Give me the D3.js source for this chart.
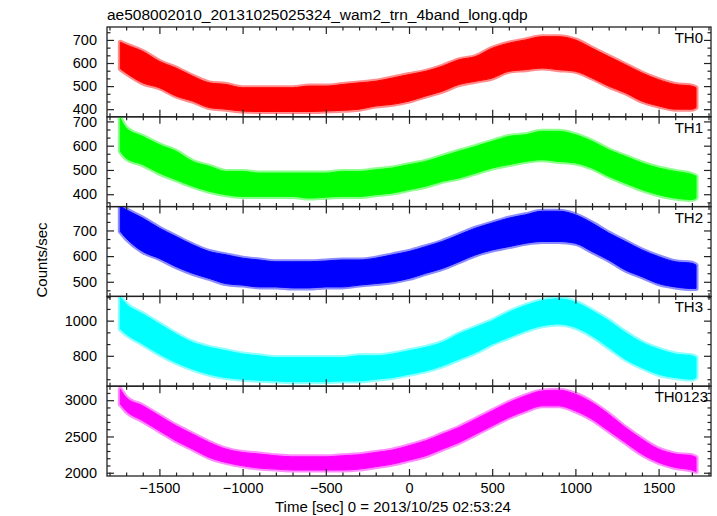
<!DOCTYPE html>
<html><head><meta charset="utf-8">
<script src="https://cdn.jsdelivr.net/npm/d3@7"></script>
<style>
body{margin:0;background:#fff}
text{font-family:"Liberation Sans",Arial,Helvetica,sans-serif;fill:#000}
</style>
</head><body>
<svg id="chart" width="717" height="516"></svg>
<script>
// ---- data (lower / upper edge of the dense noise band) ----
const times = [-1735,-1700,-1600,-1500,-1400,-1300,-1200,-1100,-1000,-900,-800,-700,-600,-500,-400,-300,-200,-100,0,100,200,300,400,500,600,700,800,900,1000,1100,1200,1300,1400,1500,1600,1700,1725];

const th0Hi = [690,679,650,607,578,543,514,507,493,493,493,493,500,500,507,514,521,535,550,564,586,614,628,664,686,700,714,714,700,664,628,593,557,528,507,500,493];
const th0Lo = [575,557,514,493,457,435,407,400,392,390,390,390,390,392,395,400,414,421,435,457,478,507,521,535,564,571,578,571,564,535,500,471,435,414,400,400,407];

const th1Hi = [714,673,638,604,577,535,515,494,494,487,487,487,487,487,494,494,501,508,522,535,556,577,597,618,638,645,659,659,645,618,583,556,529,508,494,481,474];
const th1Lo = [577,549,522,487,460,433,412,398,391,391,391,391,384,388,391,391,398,405,419,433,453,467,487,508,522,535,542,535,529,508,474,446,419,398,384,378,384];

const th2Hi = [794,781,748,709,676,644,618,605,592,585,578,578,578,581,585,585,592,605,618,637,657,683,709,729,748,761,775,775,761,729,690,657,624,598,578,572,565];
const th2Lo = [696,670,618,591,559,533,513,493,487,480,480,476,476,480,480,487,493,500,513,533,552,578,605,624,637,650,657,657,650,618,585,546,520,493,480,474,474];

const th3Hi = [1133,1095,1038,981,924,876,848,829,810,800,790,790,790,790,790,800,800,810,829,848,876,924,962,1000,1048,1086,1114,1124,1105,1057,1000,933,876,838,810,800,790];
const th3Lo = [952,924,867,810,762,724,695,676,667,661,657,653,653,653,657,657,667,676,695,714,743,781,819,867,905,943,971,981,962,914,848,781,733,695,676,667,676];

const th0123Hi = [3151,3037,2922,2784,2647,2532,2417,2326,2280,2257,2234,2220,2220,2220,2234,2248,2280,2312,2372,2440,2532,2624,2739,2853,2968,3060,3128,3138,3083,2968,2807,2624,2463,2326,2257,2234,2211];
const th0123Lo = [2945,2853,2716,2578,2440,2326,2211,2142,2096,2064,2050,2037,2037,2037,2037,2050,2083,2119,2174,2234,2326,2417,2532,2647,2761,2853,2922,2922,2853,2739,2578,2417,2257,2142,2073,2037,2018];

const panelNames = ["TH0","TH1","TH2","TH3","TH0123"];
const panelColors = ["#ff0000","#00ff00","#0000ff","#00ffff","#ff00ff"];
const yDomains = [[367,756],[349,719],[443,793],[627,1138],[1955,3193]];
const yMajorTicks = [[400,500,600,700],[400,500,600,700],[500,600,700],[800,1000],[2000,2500,3000]];
const yMinorStep = [100/3,100/3,100/3,200/3,100];
const xDomain = [-1815,1815];
const xMajorTicks = [-1500,-1000,-500,0,500,1000,1500];
const xMinorStep = 100;
const titleText = "ae508002010_20131025025324_wam2_trn_4band_long.qdp";
const xLabel = "Time [sec] 0 = 2013/10/25 02:53:24";
const yLabel = "Counts/sec";

const lows = [th0Lo, th1Lo, th2Lo, th3Lo, th0123Lo];
const highs = [th0Hi, th1Hi, th2Hi, th3Hi, th0123Hi];

// ---- layout ----
const L = 107, R = 711, T = 27, B = 476;
const nP = 5, pH = (B - T) / nP;
const majLen = 7, minLen = 3.5;
const fs = 15, tfs = 14.5;
const fmt = d3.format("d");

const svg = d3.select("#chart");
const x = d3.scaleLinear().domain(xDomain).range([L, R]);

svg.append("text").attr("x", L).attr("y", 20)
  .style("font-size", "15.5px").text(titleText);

function minorValues(domain, step, majors) {
  const out = [];
  const start = Math.ceil((domain[0] - 1e-6) / step);
  for (let k = start; k * step <= domain[1] + 1e-6; k++) {
    const v = k * step;
    if (!majors.some(m => Math.abs(m - v) < 1e-6)) out.push(v);
  }
  return out;
}
const xMinor = minorValues(xDomain, xMinorStep, xMajorTicks);

for (let i = 0; i < nP; i++) {
  const top = T + i * pH, bot = T + (i + 1) * pH;
  const y = d3.scaleLinear().domain(yDomains[i]).range([bot, top]);
  const g = svg.append("g");

  const clipId = "clip" + i;
  svg.append("clipPath").attr("id", clipId)
    .append("rect").attr("x", L).attr("y", top).attr("width", R - L).attr("height", pH);

  const rows = times.map((t, j) => ({t, lo: lows[i][j], hi: highs[i][j]}));
  const area = d3.area().x(d => x(d.t)).y0(d => y(d.lo)).y1(d => y(d.hi)).curve(d3.curveMonotoneX);
  // soft fringe (the sparse spikes at the band edges)
  g.append("path").datum(rows).attr("d", area)
    .attr("fill", "none").attr("stroke", panelColors[i]).attr("stroke-opacity", 0.45)
    .attr("stroke-width", 5).attr("stroke-linejoin", "round")
    .attr("clip-path", `url(#${clipId})`);
  g.append("path").datum(rows).attr("d", area)
    .attr("fill", panelColors[i]).attr("stroke", panelColors[i]).attr("stroke-width", 1)
    .attr("clip-path", `url(#${clipId})`);

  const yMinor = minorValues(yDomains[i], yMinorStep[i], yMajorTicks[i]);
  const styleAxis = sel => { sel.select(".domain").remove(); sel.selectAll("line").attr("stroke", "#222").attr("stroke-width", 1.2); sel.selectAll("text").style("font-size", tfs + "px").attr("fill", "#000"); };

  g.append("g").attr("transform", `translate(${L},0)`)
    .call(d3.axisLeft(y).tickValues(yMajorTicks[i]).tickSize(-majLen).tickPadding(10).tickFormat(fmt))
    .call(styleAxis);
  g.append("g").attr("transform", `translate(${L},0)`)
    .call(d3.axisLeft(y).tickValues(yMinor).tickSize(-minLen).tickFormat(""))
    .call(styleAxis);
  g.append("g").attr("transform", `translate(${R},0)`)
    .call(d3.axisRight(y).tickValues(yMajorTicks[i]).tickSize(-majLen).tickFormat(""))
    .call(styleAxis);
  g.append("g").attr("transform", `translate(${R},0)`)
    .call(d3.axisRight(y).tickValues(yMinor).tickSize(-minLen).tickFormat(""))
    .call(styleAxis);

  g.append("g").attr("transform", `translate(0,${top})`)
    .call(d3.axisTop(x).tickValues(xMajorTicks).tickSize(-majLen).tickFormat(""))
    .call(styleAxis);
  g.append("g").attr("transform", `translate(0,${top})`)
    .call(d3.axisTop(x).tickValues(xMinor).tickSize(-minLen).tickFormat(""))
    .call(styleAxis);
  const bAx = d3.axisBottom(x).tickValues(xMajorTicks).tickSize(-majLen).tickPadding(6.6)
    .tickFormat(i < nP - 1 ? "" : fmt);
  g.append("g").attr("transform", `translate(0,${bot})`).call(bAx).call(styleAxis);
  g.append("g").attr("transform", `translate(0,${bot})`)
    .call(d3.axisBottom(x).tickValues(xMinor).tickSize(-minLen).tickFormat(""))
    .call(styleAxis);

  g.append("rect").attr("x", L).attr("y", top).attr("width", R - L).attr("height", pH)
    .attr("fill", "none").attr("stroke", "#222").attr("stroke-width", 1.3);

  g.append("text").attr("x", i === nP - 1 ? 708 : 703).attr("y", top + 16)
    .attr("text-anchor", "end").style("font-size", fs + "px").text(panelNames[i]);
}

svg.append("text").attr("x", 275).attr("y", 512).style("font-size", fs + "px").text(xLabel);
svg.append("text").attr("transform", "translate(47,260) rotate(-90)")
  .attr("text-anchor", "middle").style("font-size", fs + "px").text(yLabel);
</script>
</body></html>
